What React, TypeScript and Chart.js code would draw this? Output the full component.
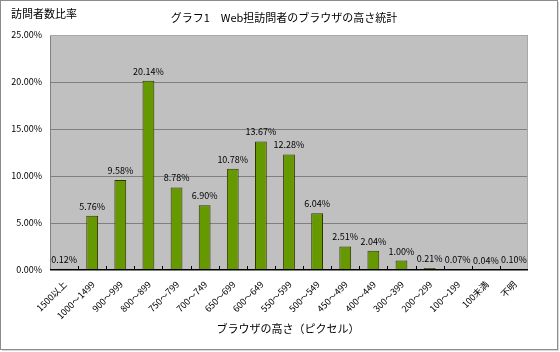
import React, { useEffect, useRef } from "react";
import { Chart, registerables } from "chart.js";

Chart.register(...registerables);

const categories = [
  "1500以上", "1000～1499", "900～999", "800～899", "750～799", "700～749",
  "650～699", "600～649", "550～599", "500～549", "450～499", "400～449",
  "300～399", "200～299", "100～199", "100未満", "不明",
];
const values = [0.12, 5.76, 9.58, 20.14, 8.78, 6.9, 10.78, 13.67, 12.28, 6.04, 2.51, 2.04, 1.0, 0.21, 0.07, 0.04, 0.1];
const yTicks = [0, 5, 10, 15, 20, 25];
const chartTitle = "グラフ1　Web担訪問者のブラウザの高さ統計";
const yTitle = "訪問者数比率";
const xTitle = "ブラウザの高さ（ピクセル）";

const FONT = '"Noto Sans CJK JP", "DejaVu Sans", sans-serif';

export default function App() {
  const ref = useRef<HTMLCanvasElement | null>(null);
  useEffect(() => {
    document.body.style.margin = "0";
    const canvas = ref.current!;
    const decor = {
      id: "decor",
      beforeDraw(chart: any) {
        const ctx = chart.ctx;
        const a = chart.chartArea;
        ctx.save();
        ctx.fillStyle = "#ffffff";
        ctx.fillRect(0, 0, chart.width, chart.height);
        ctx.strokeStyle = "#8c8c8c";
        ctx.lineWidth = 1;
        ctx.strokeRect(0.5, 0.5, chart.width - 3, chart.height - 3);
        ctx.strokeStyle = "#d8d8d8";
        ctx.beginPath();
        ctx.moveTo(chart.width - 1.5, 2);
        ctx.lineTo(chart.width - 1.5, chart.height - 1.5);
        ctx.lineTo(2, chart.height - 1.5);
        ctx.stroke();
        ctx.fillStyle = "#c0c0c0";
        ctx.fillRect(a.left, a.top, a.right - a.left, a.bottom - a.top);
        ctx.restore();
      },
      afterDatasetsDraw(chart: any) {
        const ctx = chart.ctx;
        const a = chart.chartArea;
        ctx.save();
        // plot border
        ctx.strokeStyle = "#808080";
        ctx.lineWidth = 1;
        ctx.beginPath();
        ctx.moveTo(a.left + 0.5, a.bottom);
        ctx.lineTo(a.left + 0.5, a.top + 0.5);
        ctx.stroke();
        ctx.strokeStyle = "#a8a8a8";
        ctx.beginPath();
        ctx.moveTo(a.left, a.top + 0.5);
        ctx.lineTo(a.right - 0.5, a.top + 0.5);
        ctx.lineTo(a.right - 0.5, a.bottom);
        ctx.stroke();
        // x axis line and ticks
        ctx.strokeStyle = "#000000";
        ctx.beginPath();
        ctx.moveTo(a.left, a.bottom - 0.5);
        ctx.lineTo(a.right, a.bottom - 0.5);
        const n = categories.length;
        const w = (a.right - a.left) / n;
        for (let i = 1; i < n; i++) {
          const x = Math.round(a.left + w * i) + 0.5;
          ctx.moveTo(x, a.bottom);
          ctx.lineTo(x, a.bottom - 4);
        }
        ctx.stroke();
        // value labels
        const meta = chart.getDatasetMeta(0);
        ctx.fillStyle = "#000000";
        ctx.font = `9px ${FONT}`;
        ctx.textAlign = "center";
        ctx.textBaseline = "bottom";
        meta.data.forEach((bar: any, i: number) => {
          ctx.fillText(values[i].toFixed(2) + "%", bar.x, bar.y - 5);
        });
        // titles
        ctx.font = `11px ${FONT}`;
        ctx.textBaseline = "middle";
        ctx.textAlign = "center";
        ctx.fillText(chartTitle, 284, 18);
        ctx.textAlign = "left";
        ctx.fillText(yTitle, 11, 14);
        ctx.textAlign = "center";
        ctx.fillText(xTitle, 288, 329);
        ctx.restore();
      },
    };
    const chart = new Chart(canvas, {
      type: "bar",
      data: {
        labels: categories,
        datasets: [
          {
            data: values,
            backgroundColor: "#669900",
            borderColor: "#333300",
            borderWidth: 1,
            barPercentage: 0.42,
            categoryPercentage: 1,
          },
        ],
      },
      options: {
        responsive: false,
        animation: false,
        layout: { padding: { left: 0, right: 32, top: 35, bottom: 0 } },
        plugins: { legend: { display: false }, tooltip: { enabled: false } },
        scales: {
          x: {
            grid: { display: false, drawTicks: false },
            border: { display: false },
            ticks: {
              maxRotation: 45,
              minRotation: 45,
              autoSkip: false,
              padding: 9,
              labelOffset: 1,
              color: "#000000",
              font: { family: FONT, size: 9 },
            },
            afterFit(scale: any) {
              scale.height = 82;
            },
          },
          y: {
            min: 0,
            max: 25,
            afterBuildTicks(scale: any) {
              scale.ticks = yTicks.map((v) => ({ value: v }));
            },
            grid: { color: "#808080", drawTicks: false },
            border: { display: false },
            ticks: {
              padding: 8,
              color: "#000000",
              font: { family: FONT, size: 9 },
              callback: (v: any) => Number(v).toFixed(2) + "%",
            },
            afterFit(scale: any) {
              scale.width = 50;
            },
          },
        },
      },
      plugins: [decor],
    });
    return () => chart.destroy();
  }, []);
  return <canvas ref={ref} width={560} height={352} style={{ display: "block" }} />;
}
